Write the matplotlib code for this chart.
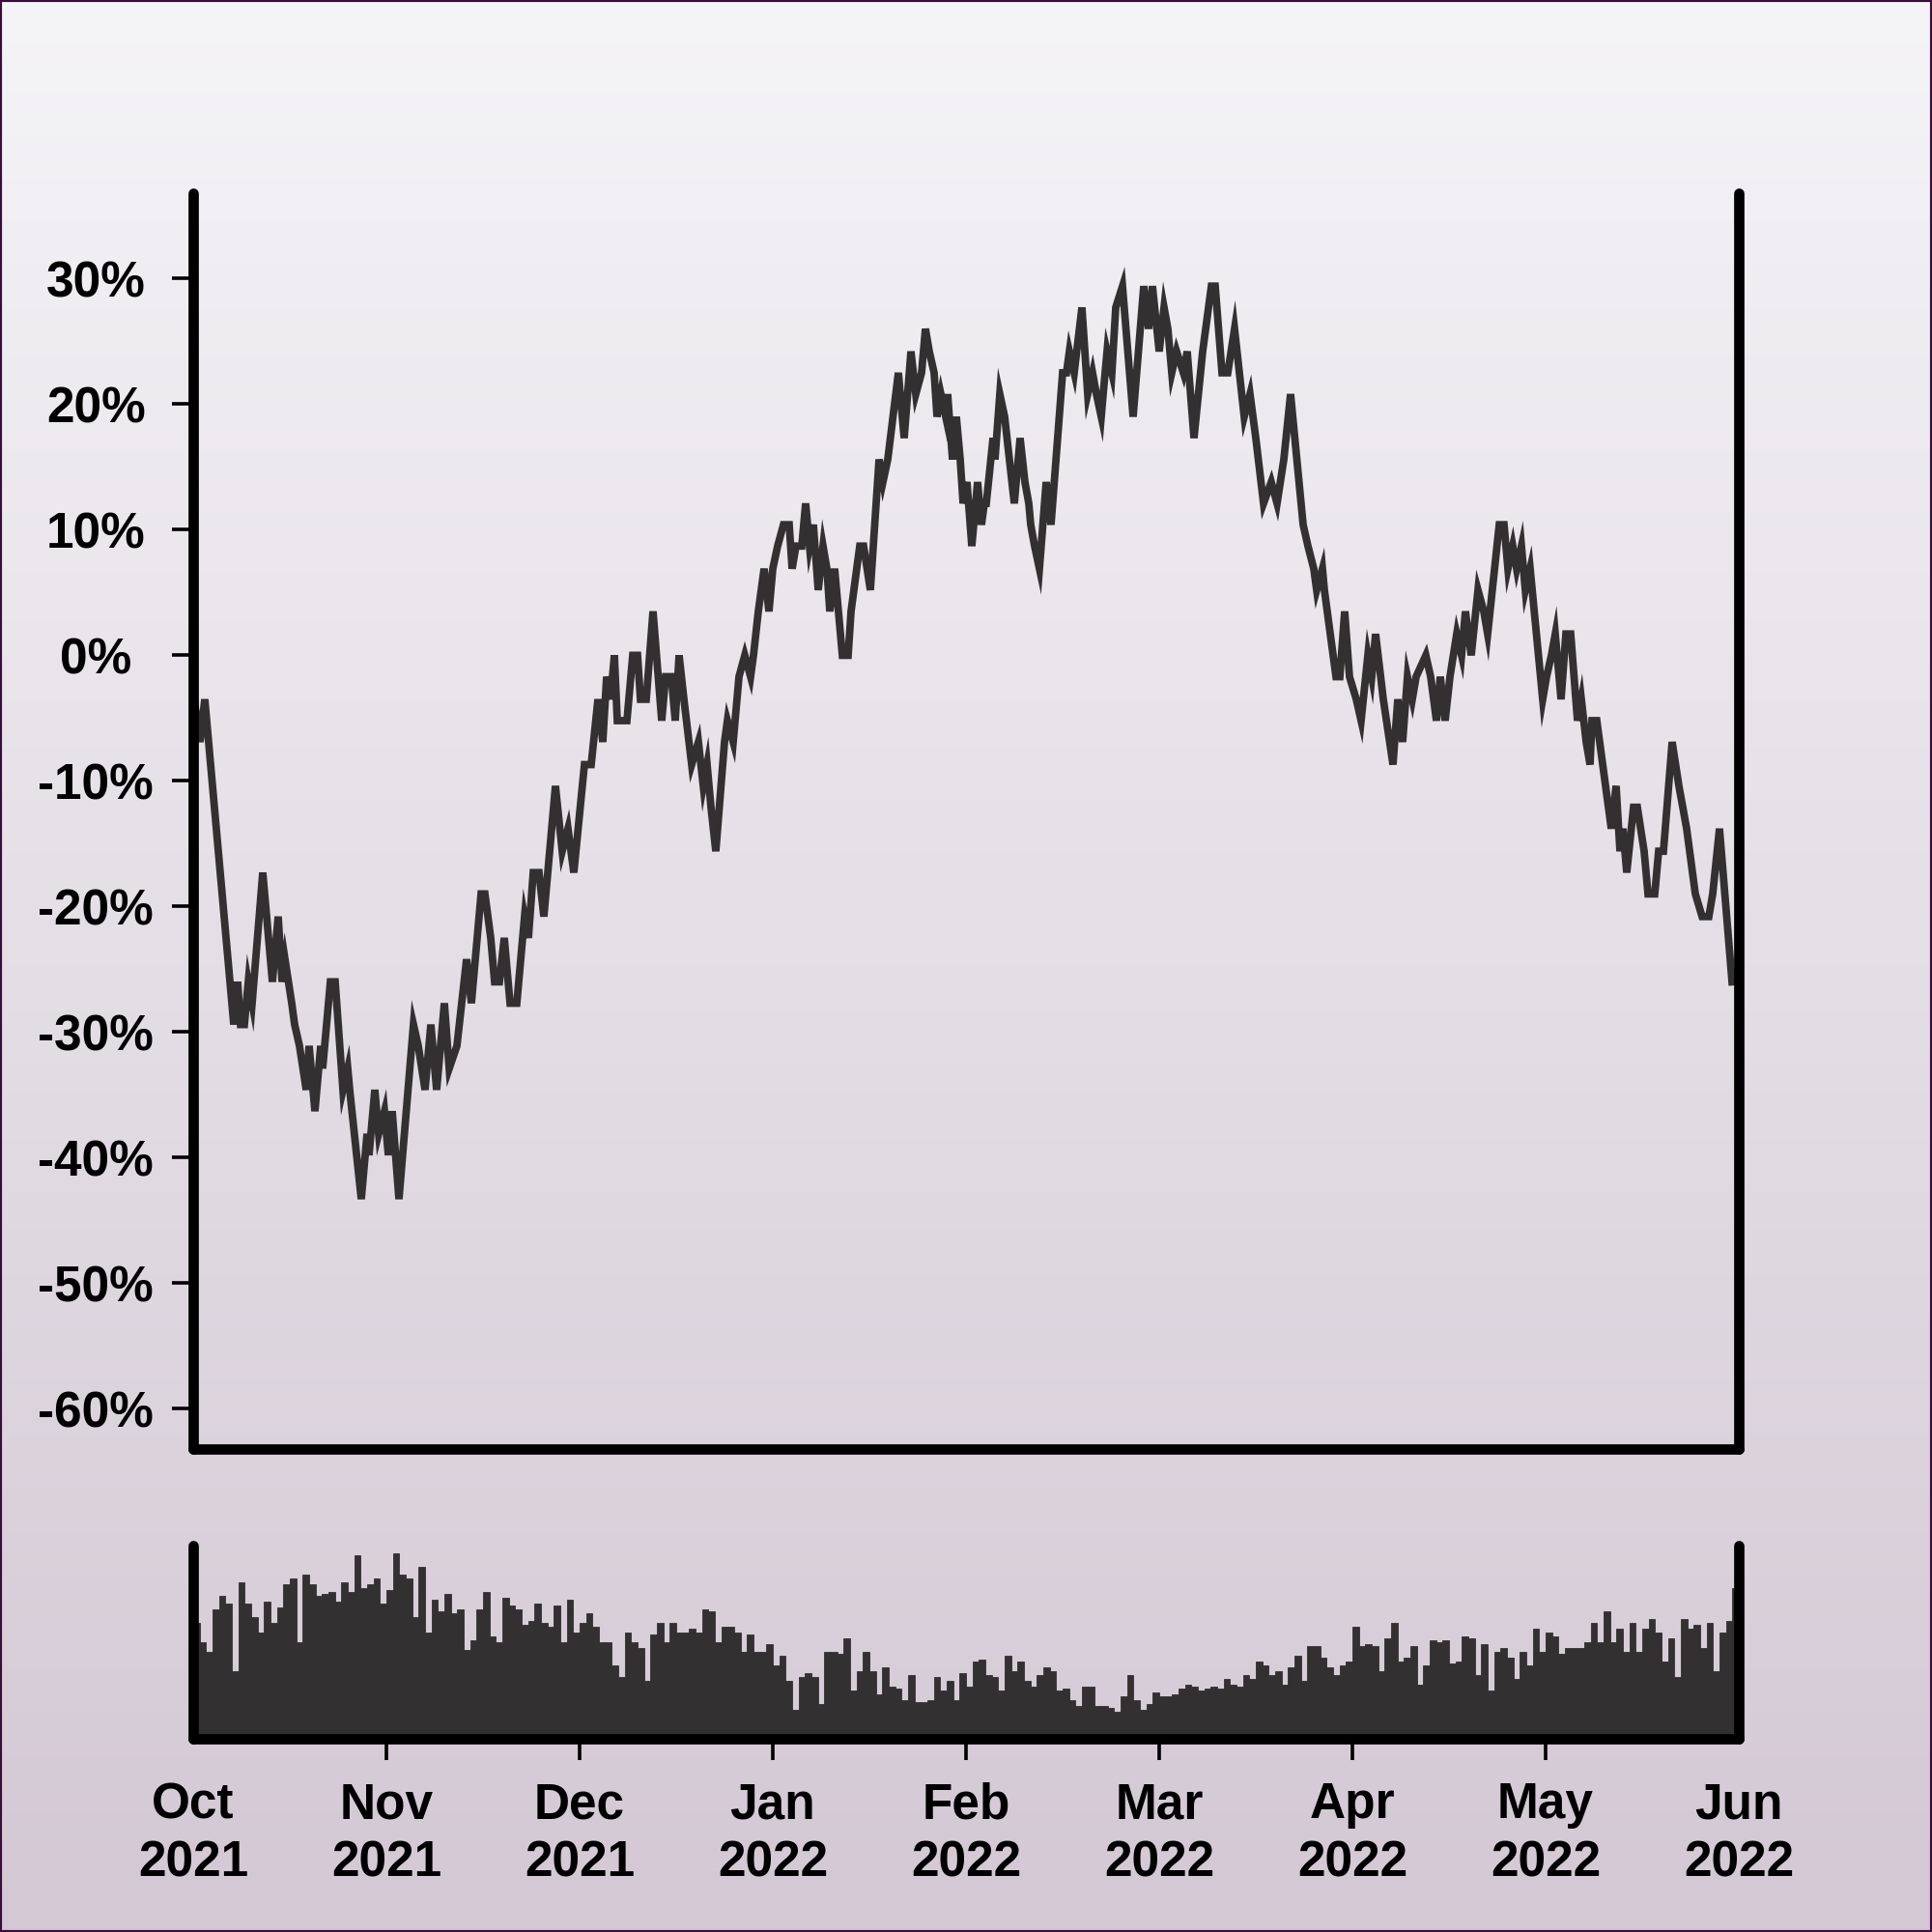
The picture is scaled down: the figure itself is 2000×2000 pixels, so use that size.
import matplotlib
matplotlib.use("Agg")
import matplotlib.pyplot as plt
import numpy as np
from matplotlib.patches import Rectangle

# cumulative change (%), x in months since Oct 2021
line_x = [
    0.005, 0.035, 0.06, 0.21, 0.23, 0.245, 0.265, 0.285, 0.305, 0.36,
    0.41, 0.44, 0.46, 0.475, 0.51, 0.525, 0.55, 0.585, 0.6, 0.63,
    0.66, 0.67, 0.71, 0.735, 0.775, 0.8, 0.81, 0.87, 0.9, 0.91,
    0.94, 0.96, 0.99, 1.01, 1.03, 1.065, 1.14, 1.165, 1.2, 1.23,
    1.26, 1.3, 1.325, 1.365, 1.415, 1.44, 1.49, 1.51, 1.54, 1.56,
    1.585, 1.61, 1.64, 1.675, 1.715, 1.735, 1.76, 1.79, 1.815, 1.875,
    1.91, 1.94, 1.97, 2.025, 2.06, 2.095, 2.12, 2.14, 2.16, 2.18,
    2.195, 2.245, 2.275, 2.3, 2.315, 2.345, 2.38, 2.425, 2.445, 2.475,
    2.495, 2.515, 2.54, 2.58, 2.615, 2.64, 2.66, 2.68, 2.705, 2.75,
    2.765, 2.795, 2.825, 2.855, 2.885, 2.9, 2.925, 2.955, 2.98, 3.0,
    3.025, 3.055, 3.085, 3.1, 3.12, 3.15, 3.17, 3.19, 3.21, 3.235,
    3.26, 3.28, 3.295, 3.32, 3.36, 3.39, 3.405, 3.45, 3.47, 3.505,
    3.55, 3.57, 3.595, 3.65, 3.68, 3.715, 3.74, 3.77, 3.79, 3.81,
    3.835, 3.85, 3.87, 3.895, 3.905, 3.93, 3.95, 3.97, 3.985, 4.005,
    4.03, 4.06, 4.08, 4.095, 4.105, 4.14, 4.15, 4.175, 4.2, 4.25,
    4.28, 4.305, 4.325, 4.335, 4.355, 4.38, 4.415, 4.44, 4.5, 4.52,
    4.535, 4.56, 4.6, 4.63, 4.655, 4.675, 4.7, 4.71, 4.73, 4.755,
    4.775, 4.81, 4.865, 4.92, 4.945, 4.965, 5.0, 5.025, 5.045, 5.065,
    5.09, 5.125, 5.145, 5.18, 5.225, 5.27, 5.29, 5.325, 5.355, 5.39,
    5.415, 5.44, 5.47, 5.5, 5.54, 5.58, 5.61, 5.645, 5.68, 5.745,
    5.77, 5.8, 5.815, 5.845, 5.855, 5.915, 5.935, 5.96, 5.985, 6.02,
    6.045, 6.08, 6.1, 6.12, 6.16, 6.21, 6.235, 6.26, 6.285, 6.31,
    6.33, 6.38, 6.405, 6.435, 6.455, 6.48, 6.505, 6.54, 6.565, 6.585,
    6.615, 6.65, 6.68, 6.7, 6.76, 6.785, 6.805, 6.83, 6.85, 6.875,
    6.895, 6.92, 6.985, 7.005, 7.03, 7.05, 7.08, 7.105, 7.13, 7.165,
    7.185, 7.21, 7.23, 7.24, 7.265, 7.34, 7.365, 7.385, 7.4, 7.42,
    7.455, 7.475, 7.51, 7.53, 7.565, 7.585, 7.61, 7.655, 7.69, 7.71,
    7.73, 7.775, 7.81, 7.845, 7.865, 7.9, 7.965,
]
line_y = [
    -3.5, -6.9, -3.5, -29.4, -26.0, -29.4, -29.4, -26.0, -27.7, -17.3,
    -26.0, -20.8, -26.0, -24.2, -27.7, -29.4, -31.1, -34.6, -31.1, -36.3,
    -31.1, -32.9, -26.0, -26.0, -34.6, -32.9, -34.6, -43.3, -38.1, -39.8,
    -34.6, -38.1, -36.3, -39.8, -36.3, -43.3, -29.4, -31.1, -34.6, -29.4,
    -34.6, -27.7, -32.9, -31.1, -24.2, -27.7, -19.0, -19.0, -22.5, -26.0,
    -26.0, -22.5, -27.7, -27.7, -20.8, -22.5, -17.3, -17.3, -20.8, -10.4,
    -15.6, -13.8, -17.3, -8.7, -8.7, -3.5, -6.9, -1.7, -3.5, 0.0,
    -5.2, -5.2, 0.0, 0.0, -3.5, -3.5, 3.5, -5.2, -1.7, -1.7,
    -5.2, 0.0, -3.5, -8.7, -6.9, -10.4, -8.7, -12.1, -15.6, -6.9,
    -5.2, -6.9, -1.7, 0.0, -1.7, 0.0, 3.5, 6.9, 3.5, 6.9,
    8.7, 10.4, 10.4, 6.9, 8.7, 8.7, 12.1, 8.7, 10.4, 5.2,
    8.7, 6.9, 3.5, 6.9, 0.0, 0.0, 3.5, 8.7, 8.7, 5.2,
    15.6, 13.8, 15.6, 22.5, 17.3, 24.2, 20.8, 22.5, 26.0, 24.2,
    22.5, 19.0, 20.8, 19.0, 20.8, 15.6, 19.0, 15.6, 12.1, 13.8,
    8.7, 13.8, 10.4, 12.1, 12.1, 17.3, 15.6, 20.8, 19.0, 12.1,
    17.3, 13.8, 12.1, 10.4, 8.7, 6.9, 13.8, 10.4, 22.5, 22.5,
    24.2, 22.5, 27.7, 20.8, 22.5, 20.8, 19.0, 20.8, 24.2, 22.5,
    27.7, 29.4, 19.0, 29.4, 26.0, 29.4, 24.2, 27.7, 26.0, 22.5,
    24.2, 22.5, 24.2, 17.3, 24.2, 29.4, 29.4, 22.5, 22.5, 26.0,
    22.5, 19.0, 20.8, 17.3, 12.1, 13.8, 12.1, 15.6, 20.8, 10.4,
    8.7, 6.9, 5.2, 6.9, 5.2, -1.7, -1.7, 3.5, -1.7, -3.5,
    -5.2, 0.0, -1.7, 1.7, -3.5, -8.7, -3.5, -6.9, -1.7, -3.5,
    -1.7, 0.0, -1.7, -5.2, -1.7, -5.2, -1.7, 1.7, 0.0, 3.5,
    0.0, 5.2, 3.5, 1.7, 10.4, 10.4, 6.9, 8.7, 6.9, 8.7,
    5.2, 6.9, -3.5, -1.7, 0.0, 1.7, -3.5, 1.7, 1.7, -5.2,
    -3.5, -6.9, -8.7, -5.2, -5.2, -13.8, -10.4, -15.6, -13.8, -17.3,
    -12.1, -12.1, -15.6, -19.0, -19.0, -15.6, -15.6, -6.9, -10.4, -12.1,
    -13.8, -19.0, -20.8, -20.8, -19.0, -13.8, -26.0,
]

# volume bars, 30 per month, heights as share of the panel
vol_h = [
    0.60, 0.50, 0.45, 0.67, 0.74, 0.70, 0.35, 0.81, 0.70, 0.63,
    0.55, 0.71, 0.60, 0.68, 0.80, 0.83, 0.50, 0.85, 0.80, 0.74,
    0.75, 0.76, 0.71, 0.81, 0.76, 0.95, 0.78, 0.80, 0.83, 0.70,
    0.77, 0.96, 0.85, 0.83, 0.63, 0.89, 0.55, 0.72, 0.66, 0.75,
    0.65, 0.67, 0.46, 0.51, 0.67, 0.76, 0.53, 0.50, 0.73, 0.69,
    0.67, 0.59, 0.61, 0.70, 0.60, 0.58, 0.69, 0.50, 0.72, 0.55,
    0.60, 0.65, 0.58, 0.50, 0.50, 0.38, 0.32, 0.55, 0.50, 0.47,
    0.30, 0.54, 0.60, 0.50, 0.60, 0.55, 0.55, 0.57, 0.55, 0.67,
    0.66, 0.50, 0.58, 0.58, 0.55, 0.45, 0.54, 0.45, 0.45, 0.49,
    0.38, 0.43, 0.30, 0.15, 0.32, 0.34, 0.32, 0.18, 0.45, 0.45,
    0.44, 0.52, 0.25, 0.35, 0.45, 0.35, 0.23, 0.37, 0.27, 0.26,
    0.20, 0.33, 0.19, 0.19, 0.20, 0.32, 0.25, 0.30, 0.20, 0.34,
    0.27, 0.40, 0.41, 0.33, 0.32, 0.25, 0.43, 0.35, 0.40, 0.30,
    0.27, 0.33, 0.37, 0.35, 0.25, 0.26, 0.20, 0.17, 0.27, 0.27,
    0.17, 0.17, 0.16, 0.14, 0.22, 0.33, 0.20, 0.15, 0.18, 0.24,
    0.22, 0.22, 0.23, 0.26, 0.28, 0.27, 0.25, 0.26, 0.27, 0.26,
    0.31, 0.28, 0.27, 0.33, 0.31, 0.40, 0.38, 0.33, 0.35, 0.28,
    0.37, 0.43, 0.30, 0.48, 0.48, 0.42, 0.37, 0.33, 0.38, 0.40,
    0.58, 0.48, 0.49, 0.48, 0.35, 0.52, 0.60, 0.40, 0.42, 0.48,
    0.28, 0.38, 0.51, 0.50, 0.51, 0.39, 0.40, 0.53, 0.52, 0.33,
    0.49, 0.25, 0.45, 0.47, 0.42, 0.31, 0.45, 0.38, 0.57, 0.45,
    0.55, 0.53, 0.44, 0.47, 0.47, 0.47, 0.50, 0.60, 0.50, 0.66,
    0.50, 0.57, 0.45, 0.60, 0.45, 0.57, 0.62, 0.55, 0.40, 0.52,
    0.32, 0.62, 0.57, 0.59, 0.47, 0.60, 0.35, 0.55, 0.61, 0.78,
]

month_labels = ["Oct\n2021", "Nov\n2021", "Dec\n2021", "Jan\n2022", "Feb\n2022",
                "Mar\n2022", "Apr\n2022", "May\n2022", "Jun\n2022"]
pct_ticks = [-60, -50, -40, -30, -20, -10, 0, 10, 20, 30]

INK = "#323031"

plt.rcParams["font.family"] = ["Liberation Sans", "DejaVu Sans"]
plt.rcParams["font.weight"] = "bold"


def style_spines(ax):
    ax.spines["top"].set_visible(False)
    for side in ("left", "right", "bottom"):
        ax.spines[side].set_linewidth(3.85)
        ax.spines[side].set_color("black")
        ax.spines[side].set_capstyle("round")


def main():
    fig = plt.figure(figsize=(10, 10), dpi=200)

    # vertical background gradient
    bg = fig.add_axes([0, 0, 1, 1], zorder=-10)
    top = np.array([245, 244, 247]) / 255
    bot = np.array([211, 200, 212]) / 255
    t = np.linspace(0, 1, 256)[:, None]
    grad = top[None, :] * (1 - t) + bot[None, :] * t
    bg.imshow(grad[:, None, :], aspect="auto", extent=[0, 1, 0, 1])
    bg.set_axis_off()

    ax = fig.add_axes([0.1, 0.25, 0.8, 0.65])
    ax.set_facecolor("none")
    ax.plot(line_x, line_y, color=INK, lw=2.8, solid_joinstyle="miter")
    ax.set_xlim(0, 8)
    ax.set_ylim(-63.2, 36.8)
    ax.set_yticks(pct_ticks)
    ax.set_yticklabels([f"{v}%" for v in pct_ticks], ha="center")
    ax.tick_params(axis="y", length=7.9, width=1.3, pad=28.4, labelsize=18.5)
    ax.tick_params(axis="x", bottom=False, labelbottom=False)
    style_spines(ax)

    vx = np.arange(len(vol_h)) / 30 + 1 / 60
    ax2 = fig.add_axes([0.1, 0.1, 0.8, 0.1])
    ax2.set_facecolor("none")
    ax2.bar(vx, vol_h, width=1 / 30, color=INK, edgecolor=INK, linewidth=0.3)
    ax2.set_xlim(0, 8)
    ax2.set_ylim(0, 1)
    ax2.set_yticks([])
    ax2.set_xticks(range(9))
    ax2.set_xticklabels(month_labels, linespacing=1.3)
    ax2.tick_params(axis="x", length=7.9, width=1.3, pad=8, labelsize=18.5)
    ticks = ax2.xaxis.get_major_ticks()
    ticks[0].tick1line.set_visible(False)
    ticks[-1].tick1line.set_visible(False)
    style_spines(ax2)

    fig.patches.append(Rectangle((0, 0), 1, 1, transform=fig.transFigure,
                                 fill=False, edgecolor="#3a0d3d", linewidth=1.5))

    fig.savefig("out.png", dpi=200)


if __name__ == "__main__":
    main()
